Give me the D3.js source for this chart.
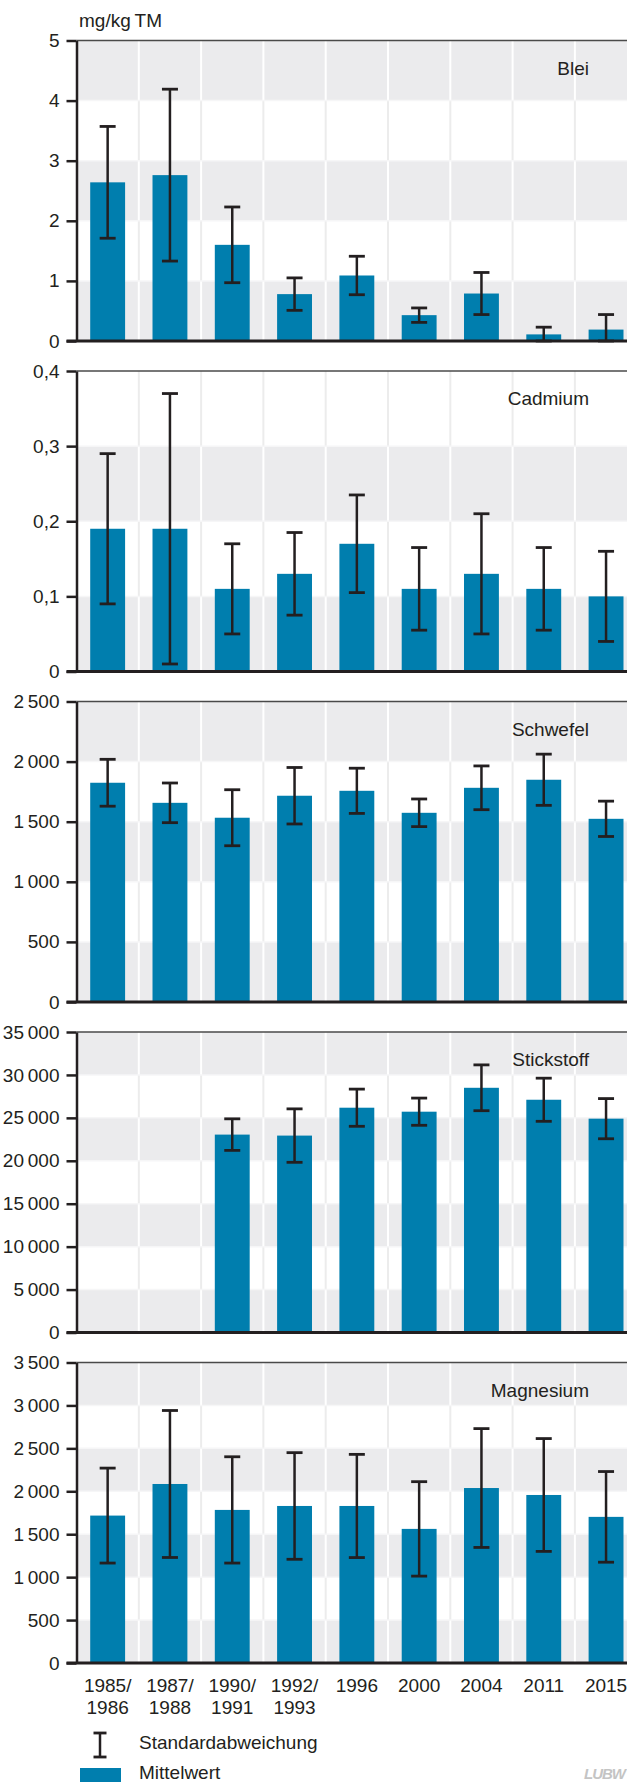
<!DOCTYPE html>
<html lang="de">
<head>
    <meta charset="UTF-8">
    <title>Bodenproben Mittelwerte</title>
    <script src="https://cdn.jsdelivr.net/npm/d3@7/dist/d3.min.js"></script>
    <style>
        body { margin: 0; background: #fff; }
        svg { display: block; }
        text { font-family: "Liberation Sans", Arial, sans-serif; fill: #231f20; }
    </style>
</head>
<body>
<svg id="chart" width="627" height="1782"></svg>
<script>
    // categories (sampling years)
    var years = ["1985/1986", "1987/1988", "1990/1991", "1992/1993", "1996", "2000", "2004", "2011", "2015"];

    // panels
    var panelNames = ["Blei", "Cadmium", "Schwefel", "Stickstoff", "Magnesium"];
    var panelMax = [5, 0.4, 2500, 35000, 3500];
    var panelStep = [1, 0.1, 500, 5000, 500];

    // Mittelwert per year
    var bleiMean = [2.64, 2.76, 1.60, 0.78, 1.09, 0.43, 0.79, 0.11, 0.19];
    var cadmiumMean = [0.19, 0.19, 0.11, 0.13, 0.17, 0.11, 0.13, 0.11, 0.10];
    var schwefelMean = [1824, 1657, 1533, 1716, 1757, 1574, 1782, 1849, 1524];
    var stickstoffMean = [null, null, 23050, 22934, 26182, 25718, 28502, 27110, 24906];
    var magnesiumMean = [1717, 2085, 1783, 1829, 1829, 1562, 2038, 1957, 1702];

    // Standardabweichung per year
    var bleiSd = [0.93, 1.43, 0.63, 0.27, 0.32, 0.12, 0.35, 0.12, 0.25];
    var cadmiumSd = [0.10, 0.18, 0.06, 0.055, 0.065, 0.055, 0.08, 0.055, 0.06];
    var schwefelSd = [195, 165, 233, 235, 188, 115, 182, 213, 147];
    var stickstoffSd = [null, null, 1837, 3113, 2165, 1585, 2668, 2513, 2340];
    var magnesiumSd = [553, 856, 619, 621, 601, 550, 692, 657, 528];

    var panelMeans = [bleiMean, cadmiumMean, schwefelMean, stickstoffMean, magnesiumMean];
    var panelSds = [bleiSd, cadmiumSd, schwefelSd, stickstoffSd, magnesiumSd];

    var BLUE = "#007eae";
    var INK = "#231f20";
    var GREY = "#ebebed";

    var svg = d3.select("#chart");

    var left = 76.5;
    var step = 62.3;
    var firstTop = 40.5;
    var panelGap = 330.5;
    var panelH = 300.5;

    var x = d3.scaleBand()
        .domain(years)
        .range([left, left + step * years.length])
        .paddingInner(0.44)
        .paddingOuter(0.22);

    var de = d3.formatLocale({decimal: ",", thousands: "\u2009", grouping: [3], currency: ["", " €"]});
    var fmt = de.format(",~f");

    // unit label
    svg.append("text")
        .attr("x", 79)
        .attr("y", 27)
        .style("font-size", "19px")
        .text("mg/kg\u2009TM");

    ///////////////////////////////// panels /////////////////////////////////
    for (var p = 0; p < panelNames.length; p++) {
        drawPanel(p);
    }

    function drawPanel(p) {
        var top = firstTop + p * panelGap;
        var bottom = top + panelH;
        var max = panelMax[p];
        var st = panelStep[p];
        var y = d3.scaleLinear().domain([0, max]).range([bottom, top]);
        var ticks = d3.range(0, max + st / 2, st);

        var g = svg.append("g").attr("class", "panel");

        // alternating horizontal bands, bottom band grey
        for (var k = 0; k < ticks.length - 1; k++) {
            var y0 = y(ticks[k + 1]), y1 = y(ticks[k]);
            var grey = (k % 2 === 0);
            g.append("rect")
                .attr("x", left)
                .attr("y", y0)
                .attr("width", 627 - left)
                .attr("height", y1 - y0)
                .attr("fill", grey ? GREY : "#fff");
            // vertical grid lines at band boundaries
            for (var i = 1; i < years.length; i++) {
                g.append("line")
                    .attr("x1", left + i * step).attr("x2", left + i * step)
                    .attr("y1", y0).attr("y2", y1)
                    .attr("stroke", grey ? "#fff" : "#ececec")
                    .attr("stroke-width", 2);
            }
        }
        // faint lines between bands
        g.selectAll("line.hgrid")
            .data(ticks.slice(1, -1))
            .enter().append("line")
            .attr("class", "hgrid")
            .attr("x1", left).attr("x2", 627)
            .attr("y1", function(d) { return y(d); })
            .attr("y2", function(d) { return y(d); })
            .attr("stroke", "#f6f6f7")
            .attr("stroke-width", 1.5);

        var rows = years.map(function(yr, i) {
            return {year: yr, mean: panelMeans[p][i], sd: panelSds[p][i]};
        }).filter(function(d) { return d.mean !== null; });

        // bars
        g.selectAll("rect.bar")
            .data(rows)
            .enter().append("rect")
            .attr("class", "bar")
            .attr("x", function(d) { return x(d.year); })
            .attr("y", function(d) { return y(d.mean); })
            .attr("width", x.bandwidth())
            .attr("height", function(d) { return bottom - y(d.mean); })
            .attr("fill", BLUE);

        // error bars
        var err = g.selectAll("g.err")
            .data(rows)
            .enter().append("g")
            .attr("class", "err")
            .attr("transform", function(d) { return "translate(" + (x(d.year) + x.bandwidth() / 2) + ",0)"; });
        err.append("line")
            .attr("y1", function(d) { return y(d.mean + d.sd); })
            .attr("y2", function(d) { return y(Math.max(0, d.mean - d.sd)); })
            .attr("stroke", INK)
            .attr("stroke-width", 2.5);
        err.append("line")
            .attr("x1", -8).attr("x2", 8)
            .attr("y1", function(d) { return y(d.mean + d.sd); })
            .attr("y2", function(d) { return y(d.mean + d.sd); })
            .attr("stroke", INK)
            .attr("stroke-width", 2.8);
        err.append("line")
            .attr("x1", -8).attr("x2", 8)
            .attr("y1", function(d) { return y(Math.max(0, d.mean - d.sd)); })
            .attr("y2", function(d) { return y(Math.max(0, d.mean - d.sd)); })
            .attr("stroke", INK)
            .attr("stroke-width", 2.8);

        // top frame line
        g.append("line")
            .attr("x1", left).attr("x2", 627)
            .attr("y1", top).attr("y2", top)
            .attr("stroke", "#4a4a4a")
            .attr("stroke-width", 1.5);

        // y axis
        var axis = g.append("g")
            .attr("transform", "translate(" + left + ",0)")
            .call(d3.axisLeft(y).tickValues(ticks).tickSize(10).tickSizeOuter(0).tickPadding(7).tickFormat(fmt));
        axis.select(".domain").attr("stroke", INK).attr("stroke-width", 2.5);
        axis.selectAll(".tick line").attr("stroke", INK).attr("stroke-width", 2.5);
        axis.selectAll(".tick text")
            .attr("fill", INK)
            .style("font-size", "19px")
            .style("font-family", "'Liberation Sans', Arial, sans-serif");

        // zero line
        g.append("line")
            .attr("x1", left - 10).attr("x2", 627)
            .attr("y1", bottom).attr("y2", bottom)
            .attr("stroke", INK)
            .attr("stroke-width", 2.8);

        // panel name
        g.append("text")
            .attr("x", 589)
            .attr("y", top + 34)
            .attr("text-anchor", "end")
            .style("font-size", "19px")
            .text(panelNames[p]);

        // year labels under the last panel
        if (p === panelNames.length - 1) {
            var lab = g.selectAll("text.year")
                .data(years)
                .enter().append("text")
                .attr("class", "year")
                .attr("text-anchor", "middle")
                .style("font-size", "19px");
            lab.each(function(d) {
                var parts = d.split("/");
                var cx = x(d) + x.bandwidth() / 2;
                var t = d3.select(this);
                if (parts.length === 2) {
                    t.append("tspan").attr("x", cx).attr("y", bottom + 29).text(parts[0] + "/");
                    t.append("tspan").attr("x", cx).attr("y", bottom + 51).text(parts[1]);
                } else {
                    t.append("tspan").attr("x", cx).attr("y", bottom + 29).text(d);
                }
            });
        }
    }

    ///////////////////////////////// legend /////////////////////////////////
    var leg = svg.append("g").attr("class", "legend");
    leg.append("line")
        .attr("x1", 100).attr("x2", 100).attr("y1", 1733).attr("y2", 1757)
        .attr("stroke", INK).attr("stroke-width", 2.5);
    leg.append("line")
        .attr("x1", 93.5).attr("x2", 106.5).attr("y1", 1733).attr("y2", 1733)
        .attr("stroke", INK).attr("stroke-width", 2.8);
    leg.append("line")
        .attr("x1", 93.5).attr("x2", 106.5).attr("y1", 1757).attr("y2", 1757)
        .attr("stroke", INK).attr("stroke-width", 2.8);
    leg.append("text")
        .attr("x", 139).attr("y", 1749)
        .style("font-size", "19px")
        .text("Standardabweichung");
    leg.append("rect")
        .attr("x", 80).attr("y", 1768)
        .attr("width", 41).attr("height", 20)
        .attr("fill", BLUE);
    leg.append("text")
        .attr("x", 139).attr("y", 1779)
        .style("font-size", "19px")
        .text("Mittelwert");

    // logo
    svg.append("text")
        .attr("x", 625).attr("y", 1779)
        .attr("text-anchor", "end")
        .style("font-size", "15px")
        .style("font-weight", "bold")
        .style("font-style", "italic")
        .style("fill", "#c4c4c4")
        .style("letter-spacing", "-1px")
        .text("LUBW");
</script>
</body>
</html>
